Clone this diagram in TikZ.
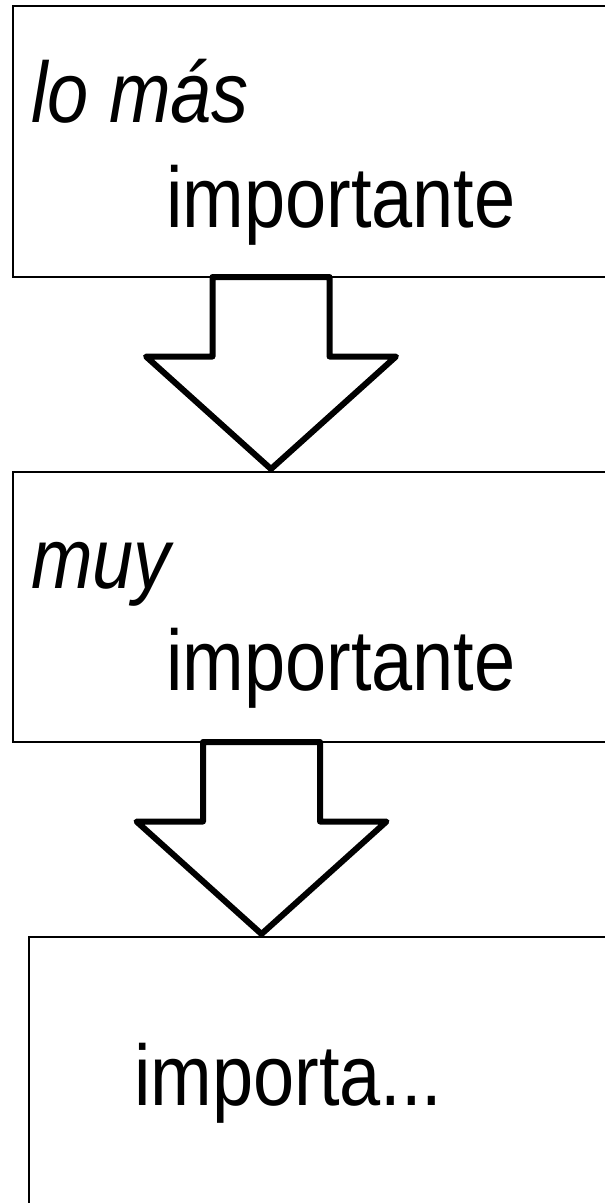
\documentclass[tikz,border=0pt]{standalone}
\usepackage{fontspec}
\setmainfont{Liberation Sans}[FakeStretch=0.86]
\usepackage{tikz}
\usetikzlibrary{calc}
\tikzstyle{box}=[rectangle,draw,line width=1.5pt,minimum width=640pt,inner sep=0pt,outer sep=0pt,anchor=north west]
\tikzstyle{arrowline}=[draw,line width=6pt,line join=round]
\tikzstyle{boxtext}=[inner sep=0pt,anchor=base west,font=\fontsize{86pt}{100pt}\selectfont]
\tikzset{pics/blockarrow/.style={code={
    \path[arrowline] (-58.5,0) -- (58.5,0) -- (58.5,79.5) -- (125,79.5) -- (0,192)
        -- (-125,79.5) -- (-58.5,79.5) -- cycle;
}}}

\begin{document}
\begin{tikzpicture}[x=1pt,y=-1pt]

    \useasboundingbox (0,0) rectangle (605,1203);
    \clip (0,0) rectangle (605,1203);

    % the three boxes
    \foreach \pos/ \name/ \ht in {{(13,6)/top/271},{(13,472)/mid/270},{(29,937)/low/320}}
        \node[box,minimum height=\ht pt] (\name) at \pos {};

    % block arrows between them
    \pic (arr1) at ($(top.south west)+(258,0)$) {blockarrow};
    \pic (arr2) at ($(mid.south west)+(248.5,0)$) {blockarrow};

    % texts
    \node[boxtext] (t1) at ($(top.north west)+(18,116)$) {\itshape lo más};
    \node[boxtext] (t2) at ($(top.north west)+(153,221)$) {importante};
    \node[boxtext] (m1) at ($(mid.north west)+(18,116)$) {\itshape muy};
    \node[boxtext] (m2) at ($(mid.north west)+(153,218)$) {importante};
    \node[boxtext] (l1) at ($(low.north west)+(105,168)$) {importa...};

\end{tikzpicture}
\end{document}
